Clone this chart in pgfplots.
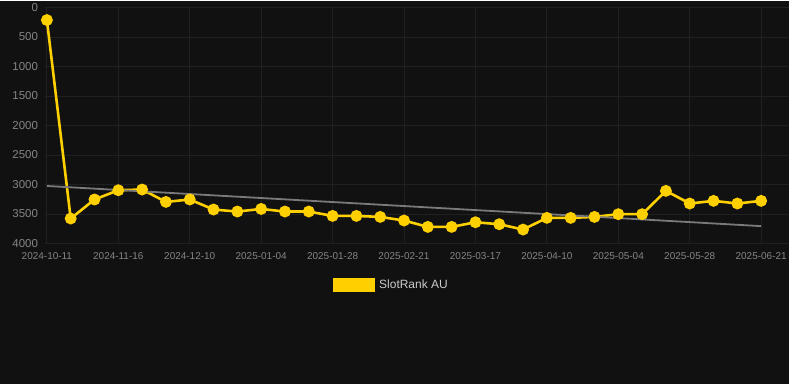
\documentclass[border=0pt]{standalone}
\usepackage{pgfplots}
\pgfplotsset{compat=1.18}
\usepackage{fontspec}
\setmainfont{Liberation Sans}
\definecolor{bg}{HTML}{111111}
\definecolor{gridc}{HTML}{202020}
\definecolor{tickc}{HTML}{858585}
\definecolor{legc}{HTML}{CCCCCC}
\definecolor{gold}{HTML}{FFD000}
\definecolor{trend}{HTML}{7A7A7A}
\begin{document}
\begin{tikzpicture}[x=1pt,y=1pt]
\fill[bg] (0,0) rectangle (790,384);
\begin{axis}[
  at={(44.6pt,140.7pt)}, anchor=south west,
  scale only axis, width=745.4pt, height=236.6pt,
  xmin=-0.1, xmax=31.15,
  ymin=0, ymax=4000, y dir=reverse,
  ytick={0,500,...,4000},
  xtick={0,3,...,30},
  xticklabels={2024-10-11,2024-11-16,2024-12-10,2025-01-04,2025-01-28,2025-02-21,2025-03-17,2025-04-10,2025-05-04,2025-05-28,2025-06-21},
  /pgf/number format/assume math mode=true,
  /pgf/number format/1000 sep={},
  axis line style={draw=none},
  major tick length=0pt,
  grid=major,
  grid style={gridc, line width=0.8pt},
  yticklabel style={font=\fontsize{11.5}{13}\selectfont, text=tickc, xshift=-3pt},
  xticklabel style={font=\fontsize{10}{12}\selectfont, text=tickc, yshift=-5pt},
  legend style={at={(0.4660,-0.176)}, anchor=center, draw=none, fill=none,
    font=\fontsize{12}{14}\selectfont, text=legc},
  legend cell align=left,
]
\addplot[gold, line width=2.6pt, mark=*, mark size=4.6pt, mark options={fill=gold, draw=gold},
  legend image code/.code={\fill[gold] (0pt,-6pt) rectangle (40pt,6pt);}]
coordinates {
(0,215) (1,3576) (2,3254) (3,3097) (4,3085) (5,3295) (6,3254) (7,3424) (8,3458) (9,3414)
(10,3458) (11,3458) (12,3532) (13,3532) (14,3549) (15,3610) (16,3718) (17,3718) (18,3639) (19,3673)
(20,3763) (21,3565) (22,3565) (23,3549) (24,3503) (25,3503) (26,3108) (27,3322) (28,3277) (29,3322) (30,3277)
};
\addlegendentry{\hspace{2pt}SlotRank AU}
\addplot[trend, line width=1.8pt, forget plot] coordinates {(0,3025) (30,3705)};
\end{axis}
\end{tikzpicture}
\end{document}
